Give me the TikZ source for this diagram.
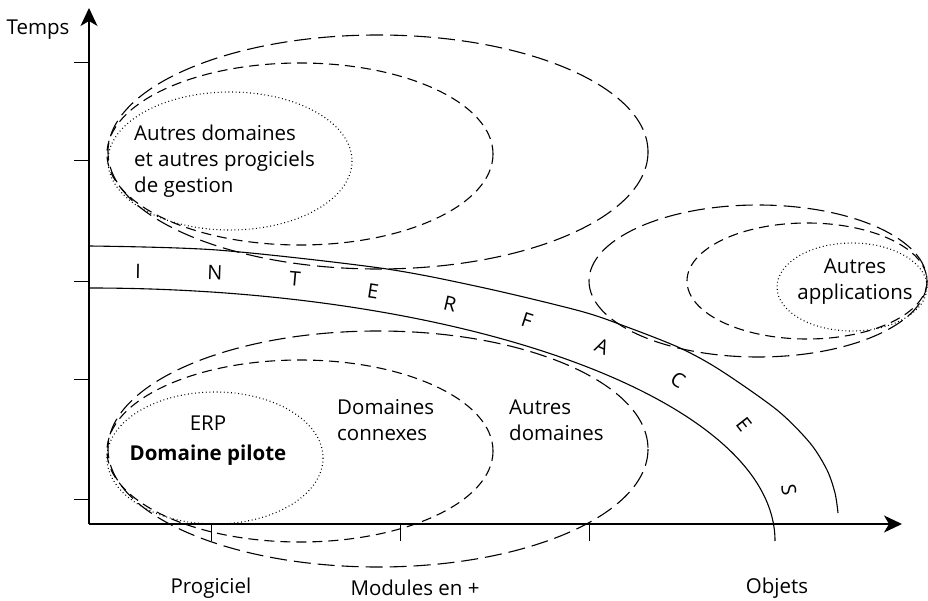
\documentclass[tikz,border=0pt]{standalone}
\usepackage{fontspec}
\setmainfont{Open Sans}
\usetikzlibrary{arrows.meta}
\begin{document}
\begin{tikzpicture}[x=1pt,y=-1pt,
  every node/.style={font=\fontsize{20.5}{26}\selectfont, inner sep=0pt},
  axis/.style={line width=1.3pt, -{Stealth[length=18pt,width=17pt,inset=5pt]}},
  tick/.style={line width=1pt},
  band/.style={line width=1.1pt},
  longdash/.style={line width=1.1pt, dash pattern=on 17pt off 7pt},
  shortdash/.style={line width=1.1pt, dash pattern=on 10pt off 6pt},
  dots/.style={line width=1.1pt, dash pattern=on 0.9pt off 2.7pt},
  letter/.style={font=\fontsize{20}{20}\selectfont}]
\useasboundingbox (0,0) rectangle (928,601);

% axes
\coordinate (o) at (89,524);
\coordinate (ytop) at (89,8);
\coordinate (xend) at (902,524);
\draw[axis] (o) -- (ytop);
\draw[axis] (o) -- (xend);

% ticks on the time axis
\foreach \y in {63,161,282,379,499} \draw[tick] (74,\y) -- (89,\y);
% ticks on the horizontal axis
\foreach \x in {211,400,589} \draw[tick] (\x,524) -- (\x,541);

% axis labels
\node (temps) at (38,30) {Temps};
\node (prog) at (211,588) {Progiciel};
\node (mod) at (415,588) {Modules en +};
\node (obj) at (777,588) {Objets};

% interface band
\draw[band] plot[smooth, tension=0.5] coordinates
  {(89,246) (217,250) (380,268) (480,287) (580,311) (627,327) (680,348)
   (720,370) (777,410) (810,443) (827,470) (835,493) (838,513)};
\draw[band] (89,288) .. controls (468,288) and (775,401) .. (775,541);

% INTERFACES lettering
\node[letter, rotate=-1]  (l1)  at (138,271) {I};
\node[letter, rotate=-2]  (l2)  at (215,273) {N};
\node[letter, rotate=-5]  (l3)  at (295,279) {T};
\node[letter, rotate=-9]  (l4)  at (373,291) {E};
\node[letter, rotate=-13] (l5)  at (450,304) {R};
\node[letter, rotate=-18] (l6)  at (527,320) {F};
\node[letter, rotate=-24] (l7)  at (602,347) {A};
\node[letter, rotate=-33] (l8)  at (678,380) {C};
\node[letter, rotate=-52] (l9)  at (744,424) {E};
\node[letter, rotate=-82] (l10) at (789,490) {S};

% management domains (top left)
\draw[longdash] (378,152) ellipse [x radius=270, y radius=117];
\draw[shortdash] (300,154) ellipse [x radius=193, y radius=91];
\draw[dots] (230,161) ellipse [x radius=122, y radius=69];
\node[align=left, anchor=west] (gest) at (134,161)
  {Autres domaines\\et autres progiciels\\de gestion};

% ERP domains (bottom left)
\draw[longdash] (378,449) ellipse [x radius=270, y radius=118];
\draw[shortdash] (300,451) ellipse [x radius=193, y radius=91];
\draw[dots] (215,458) ellipse [x radius=108, y radius=66];
\node (erp) at (208,423) {ERP};
\node (pilote) at (208,455) {\bfseries Domaine pilote};
\node[align=left, anchor=west] (connexes) at (337,420) {Domaines\\connexes};
\node[align=left, anchor=west] (autres) at (509,420) {Autres\\domaines};

% other applications (right)
\draw[longdash] (758,281) ellipse [x radius=169, y radius=76];
\draw[shortdash] (807,281) ellipse [x radius=120, y radius=58];
\draw[dots] (852,287) ellipse [x radius=75, y radius=44];
\node[align=center] (apps) at (855,282) {Autres\\applications};
\end{tikzpicture}
\end{document}
